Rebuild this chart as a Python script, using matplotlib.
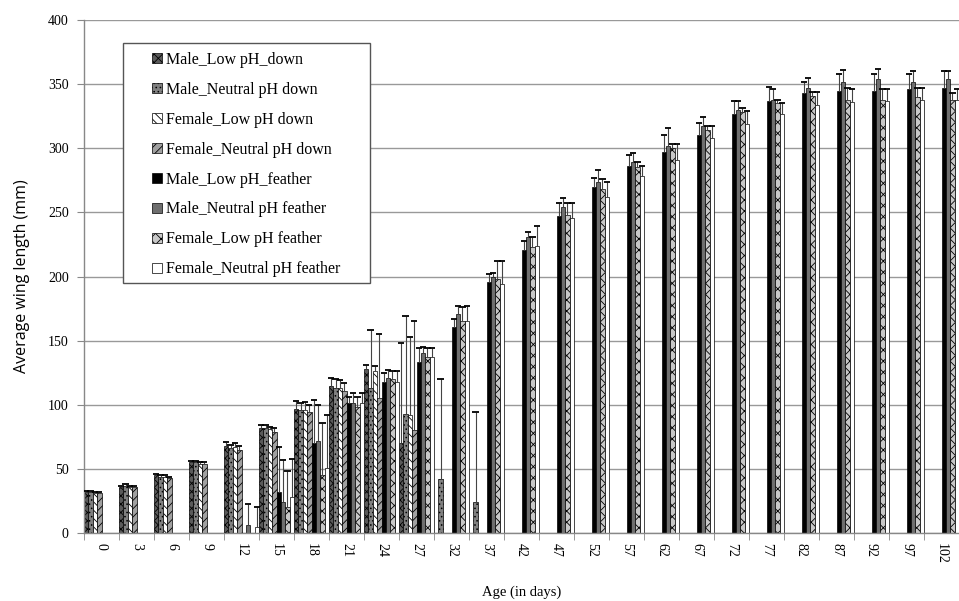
import numpy as np
import matplotlib
matplotlib.use("Agg")
import matplotlib.pyplot as plt
from matplotlib.patches import Patch, Rectangle

nan = np.nan

days = [0, 3, 6, 9, 12, 15, 18, 21, 24, 27, 32, 37, 42, 47, 52, 57, 62, 67, 72,
        77, 82, 87, 92, 97, 102]

# down measurements (early days only)
male_low_down = [32, 36, 45, 55, 68, 82, 97, 115, 128, 70] + [nan] * 15
male_low_down_err = [1, 1, 1, 1, 3, 2, 6, 6, 3, 78] + [nan] * 15
male_neutral_down = [32, 37, 44, 55, 66, 82, 96, 113, 113, 93, 42, 24] + [nan] * 13
male_neutral_down_err = [1, 1, 1, 1, 3, 2, 5, 7, 45, 76, 78, 70] + [nan] * 13
female_low_down = [31, 36, 44, 54, 67, 81, 96, 113, 126, 92] + [nan] * 15
female_low_down_err = [1, 1, 1, 1, 3, 2, 6, 6, 4, 61] + [nan] * 15
female_neutral_down = [31, 36, 43, 54, 65, 79, 94, 111, 105, 80] + [nan] * 15
female_neutral_down_err = [1, 1, 1, 1, 3, 3, 6, 6, 50, 85] + [nan] * 15

# feather measurements
male_low_feather = [nan, nan, nan, nan, nan, 32, 70, 101, 118, 133, 161, 196, 221,
                    247, 270, 286, 297, 310, 327, 337, 343, 345, 345, 346, 347]
male_low_feather_err = [nan, nan, nan, nan, nan, 35, 34, 5, 7, 11, 6, 6, 7,
                        10, 7, 9, 13, 10, 10, 11, 9, 13, 13, 12, 13]
male_neutral_feather = [nan, nan, nan, nan, 6, 24, 72, 101, 121, 140, 171, 200, 231,
                        254, 274, 289, 302, 317, 330, 338, 347, 352, 354, 352, 354]
male_neutral_feather_err = [nan, nan, nan, nan, 17, 33, 28, 8, 6, 5, 6, 3, 4,
                            7, 9, 7, 14, 7, 7, 8, 8, 9, 8, 8, 6]
female_low_feather = [nan, nan, nan, nan, nan, 20, 45, 98, 120, 137, 165, 198, 223,
                      248, 268, 285, 300, 314, 328, 335, 341, 338, 338, 340, 338]
female_low_feather_err = [nan, nan, nan, nan, nan, 28, 41, 8, 6, 7, 11, 14, 8,
                          9, 8, 4, 3, 3, 3, 3, 3, 9, 8, 7, 5]
female_neutral_feather = [nan, nan, nan, nan, 5, 28, 51, 101, 118, 137, 165, 194, 224,
                          246, 262, 278, 291, 308, 319, 327, 334, 336, 337, 338, 338]
female_neutral_feather_err = [nan, nan, nan, nan, 15, 30, 41, 8, 8, 7, 12, 18, 15,
                              11, 12, 8, 12, 9, 10, 8, 10, 10, 9, 9, 8]

series = [
    ("Male_Low pH_down", male_low_down, male_low_down_err),
    ("Male_Neutral pH down", male_neutral_down, male_neutral_down_err),
    ("Female_Low pH down", female_low_down, female_low_down_err),
    ("Female_Neutral pH down", female_neutral_down, female_neutral_down_err),
    ("Male_Low pH_feather", male_low_feather, male_low_feather_err),
    ("Male_Neutral pH feather", male_neutral_feather, male_neutral_feather_err),
    ("Female_Low pH feather", female_low_feather, female_low_feather_err),
    ("Female_Neutral pH feather", female_neutral_feather, female_neutral_feather_err),
]

# (facecolor, hatch) per series
styles = [
    ("#5a5a5a", "xxxx"),
    ("#808080", "...."),
    ("#ffffff", "\\\\\\\\"),
    ("#a0a0a0", "////"),
    ("#000000", ""),
    ("#6e6e6e", ""),
    ("#c8c8c8", "xxx"),
    ("#ffffff", ""),
]

plt.rcParams["hatch.linewidth"] = 0.6
serif = ["Liberation Serif", "DejaVu Serif"]

fig = plt.figure(figsize=(9.59, 6.01), dpi=100)
ax = fig.add_axes([84 / 959, 68 / 601, 875 / 959, 513 / 601])

n = len(series)
w = 1.0 / n
x = np.arange(len(days))

for k, (name, vals, errs) in enumerate(series):
    face, hatch = styles[k]
    xs = x + (k - (n - 1) / 2) * w
    v = np.array(vals, dtype=float)
    e = np.array(errs, dtype=float)
    ax.bar(xs, v, width=w, color=face, edgecolor="black", linewidth=0.5,
           hatch=hatch, zorder=2)
    m = np.isfinite(v) & np.isfinite(e)
    ax.vlines(xs[m], v[m], v[m] + e[m], color="#444444", linewidth=0.8, zorder=3)
    ax.hlines(v[m] + e[m], xs[m] - 0.09, xs[m] + 0.09, color="black",
              linewidth=1.3, zorder=3)

ax.set_ylim(0, 400)
ax.set_xlim(-0.5, 24.22)
ax.set_yticks(np.arange(0, 401, 50))
ax.yaxis.grid(True, color="#999999", linewidth=1.0, zorder=0)
ax.set_axisbelow(True)

for s in ["top", "right"]:
    ax.spines[s].set_visible(False)
for s in ["left", "bottom"]:
    ax.spines[s].set_color("#888888")
    ax.spines[s].set_linewidth(1.0)

ax.set_xticks(x)
ax.set_xticklabels([str(d) for d in days], rotation=270, fontfamily=serif,
                   fontsize=10)
ax.set_xticks(np.arange(len(days) + 1) - 0.5, minor=True)
ax.tick_params(axis="x", which="major", length=0, pad=7)
ax.tick_params(axis="x", which="minor", length=5, color="#888888", direction="out")
ax.tick_params(axis="y", length=5, color="#888888", direction="out", pad=6)
for lbl in ax.get_yticklabels():
    lbl.set_fontfamily(serif)
    lbl.set_fontsize(10)

ax.set_xlabel("Age (in days)", fontfamily=serif, fontsize=10.5, labelpad=16)
ax.set_ylabel("Average wing length (mm)", fontfamily=["Open Sans", "DejaVu Sans"],
              fontsize=11.5, labelpad=13)

# legend box drawn separately so the entries can sit inset like the original
fig.patches.append(Rectangle((123 / 959, 1 - 283 / 601), 247 / 959, 240 / 601,
                             transform=fig.transFigure, facecolor="white",
                             edgecolor="#555555", linewidth=1.0, zorder=4))
handles = [Patch(facecolor=styles[k][0], edgecolor="black", linewidth=0.5,
                 hatch=styles[k][1], label=series[k][0]) for k in range(n)]
leg = fig.legend(handles=handles, loc="upper left",
                 bbox_to_anchor=(152 / 959, 1 - 52 / 601),
                 prop={"family": serif, "size": 11.5},
                 frameon=False,
                 handlelength=0.6, handleheight=0.6, handletextpad=0.3,
                 labelspacing=0.87, borderpad=0, borderaxespad=0)
leg.set_zorder(5)

fig.savefig("out.png", dpi=100)
